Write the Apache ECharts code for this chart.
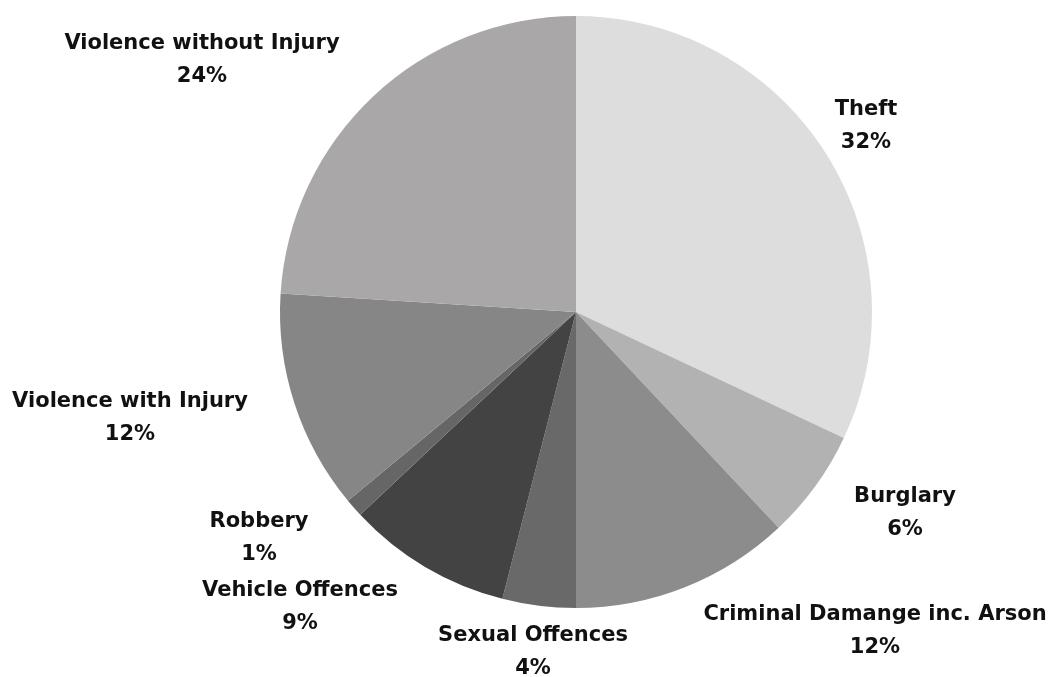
<!DOCTYPE html>
<html>
<head>
<meta charset="utf-8">
<script src="https://cdn.jsdelivr.net/npm/echarts@6/dist/echarts.min.js"></script>
<style>html,body{margin:0;padding:0;background:#fff;}#chart{width:1049px;height:677px;}</style>
</head>
<body>
<div id="chart"></div>
<script>
const categories = ['Theft', 'Burglary', 'Criminal Damange inc. Arson', 'Sexual Offences', 'Vehicle Offences', 'Robbery', 'Violence with Injury', 'Violence without Injury'];
const values = [32, 6, 12, 4, 9, 1, 12, 24];
const colors = ['#dddddd', '#b2b2b2', '#8c8c8c', '#696969', '#434343', '#666666', '#868686', '#a9a7a8'];
const labelPositions = [[866, 126], [905, 513], [875, 631], [533, 652], [300, 607], [259, 538], [130, 418], [202, 60]];

const chart = echarts.init(document.getElementById('chart'));
chart.setOption({
  animation: false,
  series: [{
    type: 'pie',
    center: [576, 312],
    radius: 296,
    startAngle: 90,
    clockwise: true,
    data: categories.map((c, i) => ({ name: c, value: values[i], itemStyle: { color: colors[i] } })),
    label: {
      show: true,
      position: 'outside',
      formatter: p => p.name + '\n' + p.value + '%',
      fontFamily: 'DejaVu Sans',
      fontWeight: 'bold',
      fontSize: 21,
      lineHeight: 33,
      color: '#111',
      align: 'center',
      overflow: 'none',
      width: 400
    },
    labelLine: { show: false },
    labelLayout: function (params) {
      const p = labelPositions[params.dataIndex];
      return { x: p[0], y: p[1], align: 'center', verticalAlign: 'middle' };
    },
    itemStyle: { borderWidth: 0 }
  }]
});
</script>
</body>
</html>
